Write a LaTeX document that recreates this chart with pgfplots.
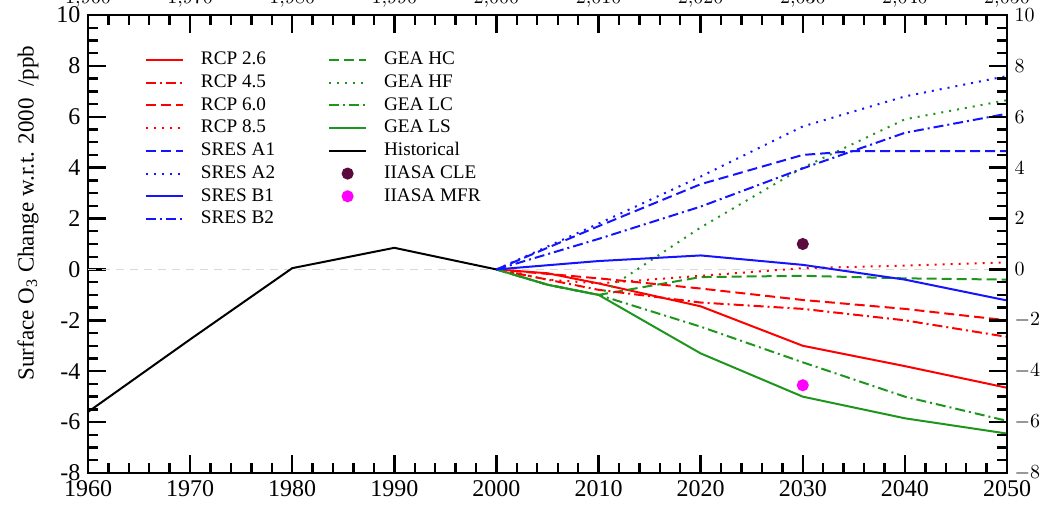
\documentclass[border=0pt]{standalone}
\usepackage{fontspec}
\setmainfont{Liberation Serif}
\usepackage{pgfplots}
\pgfplotsset{compat=1.18}
\definecolor{cred}{RGB}{255,0,0}
\definecolor{cblue}{RGB}{20,20,255}
\definecolor{cgreen}{RGB}{30,150,30}
\definecolor{cpurple}{RGB}{90,10,60}
\definecolor{cmag}{RGB}{255,0,255}
\pgfplotsset{
  frameaxis/.style={
    scale only axis, width=459.5pt, height=229pt,
    xmin=1960, xmax=2050, ymin=-8, ymax=10,
    xtick={1960,1970,...,2050}, ytick={-8,-6,...,10},
    minor x tick num=4, minor y tick num=3,
    major tick length=9pt, minor tick length=5pt,
    every axis/.append style={line width=1pt},
    every tick/.style={black, line width=1.2pt},
  }
}
\begin{document}
\begin{tikzpicture}
\begin{axis}[
  frameaxis,
  xtick pos=both, ytick pos=both,
  /pgf/number format/assume math mode=true,
  /pgf/number format/1000 sep={},
  ticklabel style={font=\fontsize{12}{14}\selectfont},
  every axis y label/.style={at={(axis description cs:-0.0653,0.5677)}, rotate=90, anchor=center, font=\fontsize{11.5}{13}\selectfont},
  ylabel={Surface O\textsubscript{3} Change w.r.t. 2000~~/ppb},
  legend columns=2,
  legend cell align=left,
  legend style={draw=none, fill=none, inner sep=0pt, at={(0.0609,0.926)}, anchor=north west,
    font=\fontsize{9.6}{11}\selectfont, row sep=1.15pt,
    nodes={inner sep=0.5pt, text height=7pt, text depth=2.2pt},
    /tikz/every odd column/.append style={column sep=8pt},
    /tikz/every even column/.append style={column sep=26pt}},
  legend image code/.code={\draw[mark repeat=2,mark phase=2,#1] plot coordinates {(0pt,0pt) (9.25pt,0pt) (18.5pt,0pt)};},
  mark size=2.5pt,
]
\addplot[gray!30, line width=0.8pt, dash pattern=on 4pt off 3pt, forget plot] coordinates {(1960,0)(2050,0)};

% row 1
\addplot[cred, line width=1pt] coordinates {(2000,0)(2005,-0.15)(2010,-0.55)(2020,-1.45)(2030,-3.0)(2040,-3.8)(2050,-4.65)};
\addlegendentry{RCP 2.6}
\addplot[cgreen, line width=1pt, dash pattern=on 5pt off 2.5pt] coordinates {(2000,0)(2005,-0.6)(2010,-1.0)(2020,-0.3)(2030,-0.25)(2040,-0.35)(2050,-0.4)};
\addlegendentry{GEA HC}
% row 2
\addplot[cred, line width=1pt, dash pattern=on 5pt off 2pt on 1pt off 2pt] coordinates {(2000,0)(2010,-0.8)(2020,-1.3)(2030,-1.55)(2040,-2.0)(2050,-2.65)};
\addlegendentry{RCP 4.5}
\addplot[cgreen, line width=1pt, dash pattern=on 1pt off 3pt] coordinates {(2000,0)(2005,-0.6)(2010,-1.0)(2020,1.65)(2030,4.0)(2040,5.9)(2050,6.65)};
\addlegendentry{GEA HF}
% row 3
\addplot[cred, line width=1pt, dash pattern=on 5pt off 2.5pt] coordinates {(2000,0)(2010,-0.35)(2020,-0.75)(2030,-1.2)(2040,-1.55)(2050,-2.0)};
\addlegendentry{RCP 6.0}
\addplot[cgreen, line width=1pt, dash pattern=on 5pt off 2pt on 1pt off 2pt] coordinates {(2000,0)(2005,-0.6)(2010,-1.0)(2020,-2.25)(2030,-3.65)(2040,-5.0)(2050,-5.95)};
\addlegendentry{GEA LC}
% row 4
\addplot[cred, line width=1pt, dash pattern=on 1pt off 3pt] coordinates {(2000,0)(2005,-0.4)(2010,-0.55)(2020,-0.25)(2030,0.05)(2040,0.15)(2050,0.28)};
\addlegendentry{RCP 8.5}
\addplot[cgreen, line width=1pt] coordinates {(2000,0)(2005,-0.6)(2010,-1.0)(2020,-3.3)(2030,-5.0)(2040,-5.85)(2050,-6.45)};
\addlegendentry{GEA LS}
% row 5
\addplot[cblue, line width=1pt, dash pattern=on 5pt off 2.5pt] coordinates {(2000,0)(2010,1.7)(2020,3.35)(2030,4.5)(2035,4.65)(2050,4.65)};
\addlegendentry{SRES A1}
\addplot[black, line width=1pt] coordinates {(1960,-5.6)(1970,-2.75)(1980,0.05)(1990,0.85)(2000,0)};
\addlegendentry{Historical}
% row 6
\addplot[cblue, line width=1pt, dash pattern=on 1pt off 3pt] coordinates {(2000,0)(2010,1.8)(2020,3.65)(2030,5.62)(2040,6.8)(2050,7.6)};
\addlegendentry{SRES A2}
\addplot[only marks, mark=*, cpurple] coordinates {(2030,1.0)};
\addlegendentry{IIASA CLE}
% row 7
\addplot[cblue, line width=1pt] coordinates {(2000,0)(2010,0.33)(2020,0.55)(2030,0.18)(2040,-0.4)(2050,-1.22)};
\addlegendentry{SRES B1}
\addplot[only marks, mark=*, cmag] coordinates {(2030,-4.55)};
\addlegendentry{IIASA MFR}
% row 8
\addplot[cblue, line width=1pt, dash pattern=on 5pt off 2pt on 1pt off 2pt] coordinates {(2000,0)(2010,1.2)(2020,2.47)(2030,3.97)(2040,5.37)(2050,6.12)};
\addlegendentry{SRES B2}
\end{axis}
% overlay axis drawing the ticks on the top and right edges
\begin{axis}[
  frameaxis,
  axis x line*=top, axis y line*=right,
  xtick align=inside, ytick align=inside,
  xticklabel={}, yticklabel={},
]
\addplot[draw=none, forget plot] coordinates {(1960,-8)(2050,10)};
\end{axis}
\pgfresetboundingbox
\path[use as bounding box] ([shift={(-44pt,-19.5pt)}]current axis.south west) rectangle ([shift={(20.5pt,7.5pt)}]current axis.north east);
\end{tikzpicture}
\end{document}
